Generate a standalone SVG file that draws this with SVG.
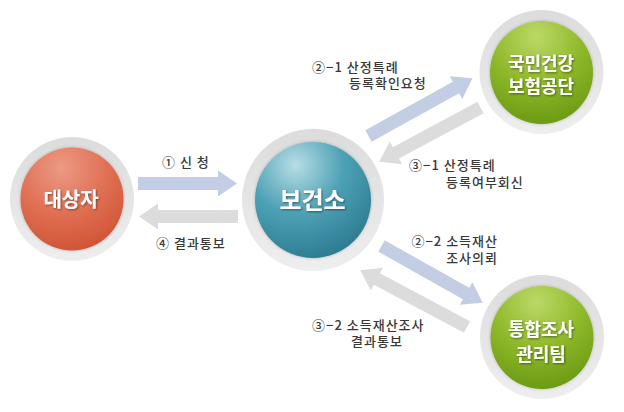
<svg xmlns="http://www.w3.org/2000/svg" width="624" height="412" viewBox="0 0 624 412">
<defs>
<linearGradient id="ring" x1="0" y1="0" x2="0" y2="1">
<stop offset="0" stop-color="#dcdcdc"/>
<stop offset="1" stop-color="#eeeeee"/>
</linearGradient>
<radialGradient id="red" cx="0.4" cy="0.2" r="0.9">
<stop offset="0" stop-color="#ec9a84"/>
<stop offset="0.5" stop-color="#e06f53"/>
<stop offset="1" stop-color="#cd4f30"/>
</radialGradient>
<radialGradient id="teal" cx="0.35" cy="0.2" r="0.9">
<stop offset="0" stop-color="#b8dde5"/>
<stop offset="0.45" stop-color="#4fa2b6"/>
<stop offset="1" stop-color="#27758c"/>
</radialGradient>
<radialGradient id="green" cx="0.45" cy="0.15" r="0.9">
<stop offset="0" stop-color="#bcd866"/>
<stop offset="0.5" stop-color="#8fb92b"/>
<stop offset="1" stop-color="#679711"/>
</radialGradient>
<filter id="ts" x="-20%" y="-20%" width="140%" height="140%">
<feDropShadow dx="1" dy="1" stdDeviation="0.8" flood-color="#000" flood-opacity="0.45"/>
</filter>
<filter id="cs" x="-20%" y="-20%" width="140%" height="140%">
<feDropShadow dx="0" dy="0" stdDeviation="1.5" flood-color="#000" flood-opacity="0.25"/>
</filter>
</defs>
<style>
.ring{fill:url(#ring)}
.nt{font-family:"Noto Sans CJK KR","Noto Sans",sans-serif;font-weight:bold;fill:#ffffff;text-anchor:middle}
.lb{font-family:"Noto Sans CJK KR","Noto Sans",sans-serif;font-size:13px;font-weight:500;fill:#383838;letter-spacing:1px}
.blue{fill:#c3cde3}
.grey{fill:#dcdcdc}
</style>

<g id="connectors">
<path class="blue" transform="translate(138,183.5)" d="M0,-6.5 H80 V-13 L99,0 L80,13 V6.5 H0 Z"/>
<path class="grey" transform="translate(238,216.5) rotate(180)" d="M0,-6.5 H80 V-13 L99,0 L80,13 V6.5 H0 Z"/>
<path class="blue" transform="translate(368.5,136) rotate(-29)" d="M0,-6.5 H100 V-13 L119,0 L100,13 V6.5 H0 Z"/>
<path class="grey" transform="translate(480.5,107.5) rotate(151.8)" d="M0,-6.5 H96 V-13 L115,0 L96,13 V6.5 H0 Z"/>
<path class="blue" transform="translate(381.5,246) rotate(29.3)" d="M0,-6.5 H97 V-13 L116,0 L97,13 V6.5 H0 Z"/>
<path class="grey" transform="translate(467,327) rotate(208)" d="M0,-6.5 H102 V-13 L121,0 L102,13 V6.5 H0 Z"/>
<text class="lb" x="162" y="167">① 신 청</text>
<text class="lb" x="156" y="248">④ 결과통보</text>
<text class="lb"><tspan x="312" y="72">②−1 산정특례</tspan><tspan x="349" y="88">등록확인요청</tspan></text>
<text class="lb"><tspan x="409" y="170">③−1 산정특례</tspan><tspan x="446" y="187">등록여부회신</tspan></text>
<text class="lb" text-anchor="end"><tspan x="498" y="246">②−2 소득재산</tspan><tspan x="498" y="263">조사의뢰</tspan></text>
<text class="lb"><tspan x="312" y="330">③−2 소득재산조사</tspan><tspan x="351" y="346">결과통보</tspan></text>
</g>

<g id="node-applicant">
<circle class="ring" cx="72" cy="199" r="62"/>
<circle cx="72" cy="199" r="51.5" fill="url(#red)" filter="url(#cs)"/>
<text class="nt" x="71" y="207" font-size="20" filter="url(#ts)">대상자</text>
</g>

<g id="node-health-center">
<circle class="ring" cx="313" cy="200" r="71"/>
<circle cx="313" cy="200" r="58" fill="url(#teal)" filter="url(#cs)"/>
<text class="nt" x="312.5" y="208.5" font-size="24" filter="url(#ts)">보건소</text>
</g>

<g id="node-nhis">
<circle class="ring" cx="541.5" cy="72" r="62"/>
<circle cx="541.5" cy="72.5" r="51.5" fill="url(#green)" filter="url(#cs)"/>
<text class="nt" x="541" y="70" font-size="18" filter="url(#ts)">국민건강</text>
<text class="nt" x="541" y="93" font-size="18" filter="url(#ts)">보험공단</text>
</g>

<g id="node-survey-team">
<circle class="ring" cx="542" cy="337" r="62"/>
<circle cx="542" cy="337.5" r="51.5" fill="url(#green)" filter="url(#cs)"/>
<text class="nt" x="541" y="336" font-size="18" filter="url(#ts)">통합조사</text>
<text class="nt" x="541" y="361" font-size="18" filter="url(#ts)">관리팀</text>
</g>
</svg>
